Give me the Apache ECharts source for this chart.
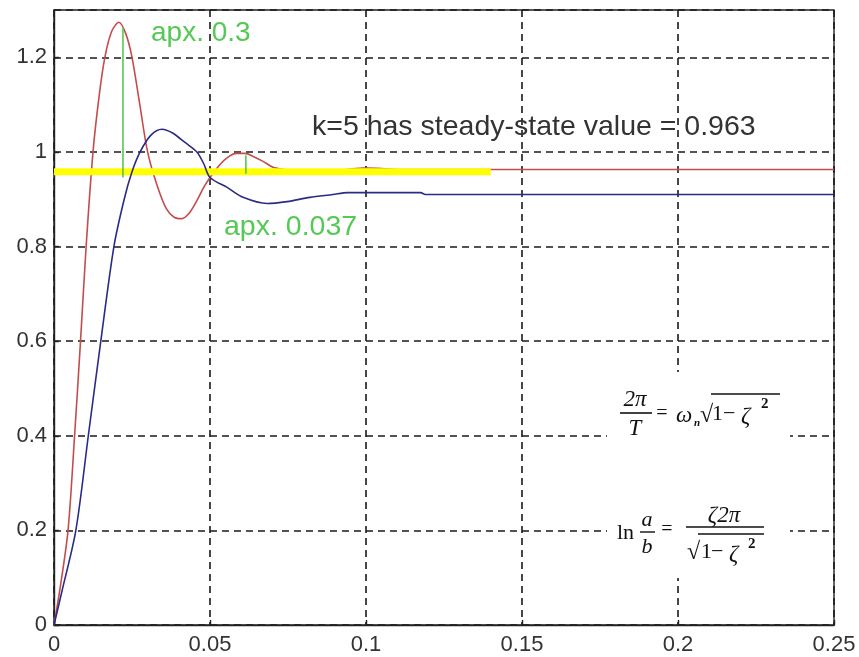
<!DOCTYPE html>
<html>
<head>
<meta charset="utf-8">
<script src="https://cdn.jsdelivr.net/npm/echarts@6/dist/echarts.min.js"></script>
<style>
  html, body { margin: 0; padding: 0; background: #fff; }
  #chart { width: 859px; height: 657px; }
</style>
</head>
<body>
<div id="chart"></div>
<script>
  // values
  var xTicks = [0, 0.05, 0.1, 0.15, 0.2, 0.25];
  var yTicks = [0, 0.2, 0.4, 0.6, 0.8, 1, 1.2];

  // red response (k=5), underdamped
  var redT = [0, 0.002, 0.0045, 0.0066, 0.0085, 0.0103, 0.0125, 0.0145, 0.0163, 0.0185, 0.0208, 0.023, 0.025, 0.0275,
    0.030, 0.033, 0.036, 0.0385, 0.041, 0.0435, 0.0458, 0.048, 0.05, 0.053, 0.056, 0.0585, 0.0612, 0.064, 0.067,
    0.07, 0.0718, 0.075, 0.08, 0.09, 0.099, 0.1, 0.105, 0.11, 0.25];
  var redY = [0, 0.08, 0.2, 0.4, 0.6, 0.8, 1.0, 1.12, 1.2, 1.255, 1.274, 1.25, 1.2, 1.1,
    1.0, 0.93, 0.88, 0.862, 0.859, 0.872, 0.897, 0.925, 0.946, 0.972, 0.99, 0.997, 0.997, 0.99, 0.98,
    0.968, 0.965, 0.962, 0.958, 0.96, 0.966, 0.966, 0.965, 0.963, 0.963];

  // blue response
  var blueT = [0, 0.0025, 0.007, 0.011, 0.015, 0.0192, 0.0225, 0.025, 0.0276, 0.031, 0.0346, 0.038, 0.042, 0.0458,
    0.048, 0.05, 0.0555, 0.0606, 0.0683, 0.0747, 0.082, 0.0894, 0.094, 0.1003, 0.1175, 0.119, 0.25];
  var blueY = [0, 0.07, 0.2, 0.4, 0.6, 0.8, 0.9, 0.958, 1.0, 1.035, 1.048, 1.04, 1.02, 1.0,
    0.975, 0.946, 0.925, 0.904, 0.891, 0.895, 0.904, 0.910, 0.914, 0.914, 0.914, 0.910, 0.910];

  // yellow steady-state marker and green overshoot marks
  var steadyT = [0, 0.14];
  var steadyY = [0.958, 0.958];
  var peak1 = [[0.0221, 1.263], [0.0221, 0.946]];
  var peak2 = [[0.0615, 0.993], [0.0615, 0.954]];

  function zip(a, b) {
    var out = [];
    for (var i = 0; i < a.length; i++) out.push([a[i], b[i]]);
    return out;
  }

  var serif = '"Liberation Serif", "DejaVu Serif", serif';
  var sans = '"Liberation Sans", Arial, sans-serif';
  var green = '#55c855';
  var ink = '#111';

  function txt(x, y, s, font, align) {
    return { type: 'text', x: x, y: y, z: 21,
      style: { text: s, font: font, fill: ink, align: align || 'left', verticalAlign: 'middle' } };
  }
  function bar(x1, x2, y, w) {
    return { type: 'line', z: 21, shape: { x1: x1, y1: y, x2: x2, y2: y }, style: { stroke: ink, lineWidth: w || 1.4 } };
  }

  var option = {
    animation: false,
    backgroundColor: '#fff',
    grid: { left: 54, right: 25, top: 10, bottom: 32, show: true, borderColor: '#222', borderWidth: 1.4 },
    xAxis: {
      type: 'value', min: 0, max: 0.25, interval: 0.05,
      axisLine: { lineStyle: { color: '#222', width: 1.4 } },
      axisTick: { inside: true, length: 5, lineStyle: { color: '#222', width: 1.4 } },
      axisLabel: { color: '#333', fontSize: 22, fontFamily: sans, margin: 9 },
      splitLine: { show: true, lineStyle: { color: '#1a1a1a', type: [7, 5], width: 1.6 } }
    },
    yAxis: {
      type: 'value', min: 0, max: 1.3, interval: 0.2,
      axisLine: { lineStyle: { color: '#222', width: 1.4 } },
      axisTick: { inside: true, length: 5, lineStyle: { color: '#222', width: 1.4 } },
      axisLabel: { color: '#333', fontSize: 22, fontFamily: sans, margin: 7, showMaxLabel: false,
        formatter: function (v) { return yTicks.indexOf(+v.toFixed(2)) >= 0 ? String(+v.toFixed(2)) : ''; } },
      splitLine: { show: true, lineStyle: { color: '#1a1a1a', type: [7, 5], width: 1.6 } }
    },
    series: [
      { type: 'line', data: zip(redT, redY), symbol: 'none', smooth: 0.3, lineStyle: { color: '#c44c4c', width: 1.6 }, z: 2 },
      { type: 'line', data: zip(steadyT, steadyY), symbol: 'none', lineStyle: { color: '#ffff00', width: 7 }, z: 3 },
      { type: 'line', data: zip(blueT, blueY), symbol: 'none', smooth: 0.3, lineStyle: { color: '#2b2b85', width: 1.6 }, z: 4 },
      { type: 'line', data: peak1, symbol: 'none', lineStyle: { color: green, width: 1.6 }, z: 5 },
      { type: 'line', data: peak2, symbol: 'none', lineStyle: { color: green, width: 1.6 }, z: 5 }
    ],
    graphic: [
      { type: 'text', x: 151, y: 33, z: 10, style: { text: 'apx. 0.3', fill: green, font: '28px ' + sans, verticalAlign: 'middle' } },
      { type: 'text', x: 224, y: 227, z: 10, style: { text: 'apx. 0.037', fill: green, font: '28.5px ' + sans, verticalAlign: 'middle' } },
      { type: 'text', x: 312, y: 127, z: 10, style: { text: 'k=5 has steady-state value = 0.963', fill: '#333', font: '28.5px ' + sans, verticalAlign: 'middle' } },

      // formula panel
      { type: 'rect', shape: { x: 607, y: 372, width: 183, height: 206 }, style: { fill: '#fff' }, z: 20 },
      // 2π / T = ωn √(1-ζ²)
      txt(635, 400, '2π', 'italic 23px ' + serif, 'center'),
      bar(620, 652, 413, 1.6),
      txt(635, 429, 'T', 'italic 23px ' + serif, 'center'),
      txt(662, 414, '=', '20px ' + serif, 'center'),
      txt(676, 416, 'ω', 'italic 23px ' + serif),
      txt(694, 423, 'n', 'bold italic 11px ' + serif),
      txt(700, 416, '√', '24px ' + serif),
      bar(711, 780, 394),
      txt(712, 414, '1', '22px ' + serif),
      txt(723, 414, '−', '22px ' + serif),
      txt(741, 417, 'ζ', 'italic 23px ' + serif),
      txt(761, 404, '2', 'bold 15px ' + serif),
      // ln a/b = ζ2π / √(1-ζ²)
      txt(617, 533, 'ln', '22px ' + serif),
      txt(647, 520, 'a', 'italic 22px ' + serif, 'center'),
      bar(640, 655, 532),
      txt(647, 547, 'b', 'italic 22px ' + serif, 'center'),
      txt(667, 530, '=', '20px ' + serif, 'center'),
      txt(724, 516, 'ζ2π', 'italic 23px ' + serif, 'center'),
      bar(686, 764, 527, 1.6),
      txt(687, 553, '√', '24px ' + serif),
      bar(698, 764, 534),
      txt(701, 552, '1', '22px ' + serif),
      txt(711, 552, '−', '22px ' + serif),
      txt(729, 555, 'ζ', 'italic 23px ' + serif),
      txt(748, 544, '2', 'bold 15px ' + serif)
    ]
  };

  var myChart = echarts.init(document.getElementById('chart'));
  myChart.setOption(option);
</script>
</body>
</html>
